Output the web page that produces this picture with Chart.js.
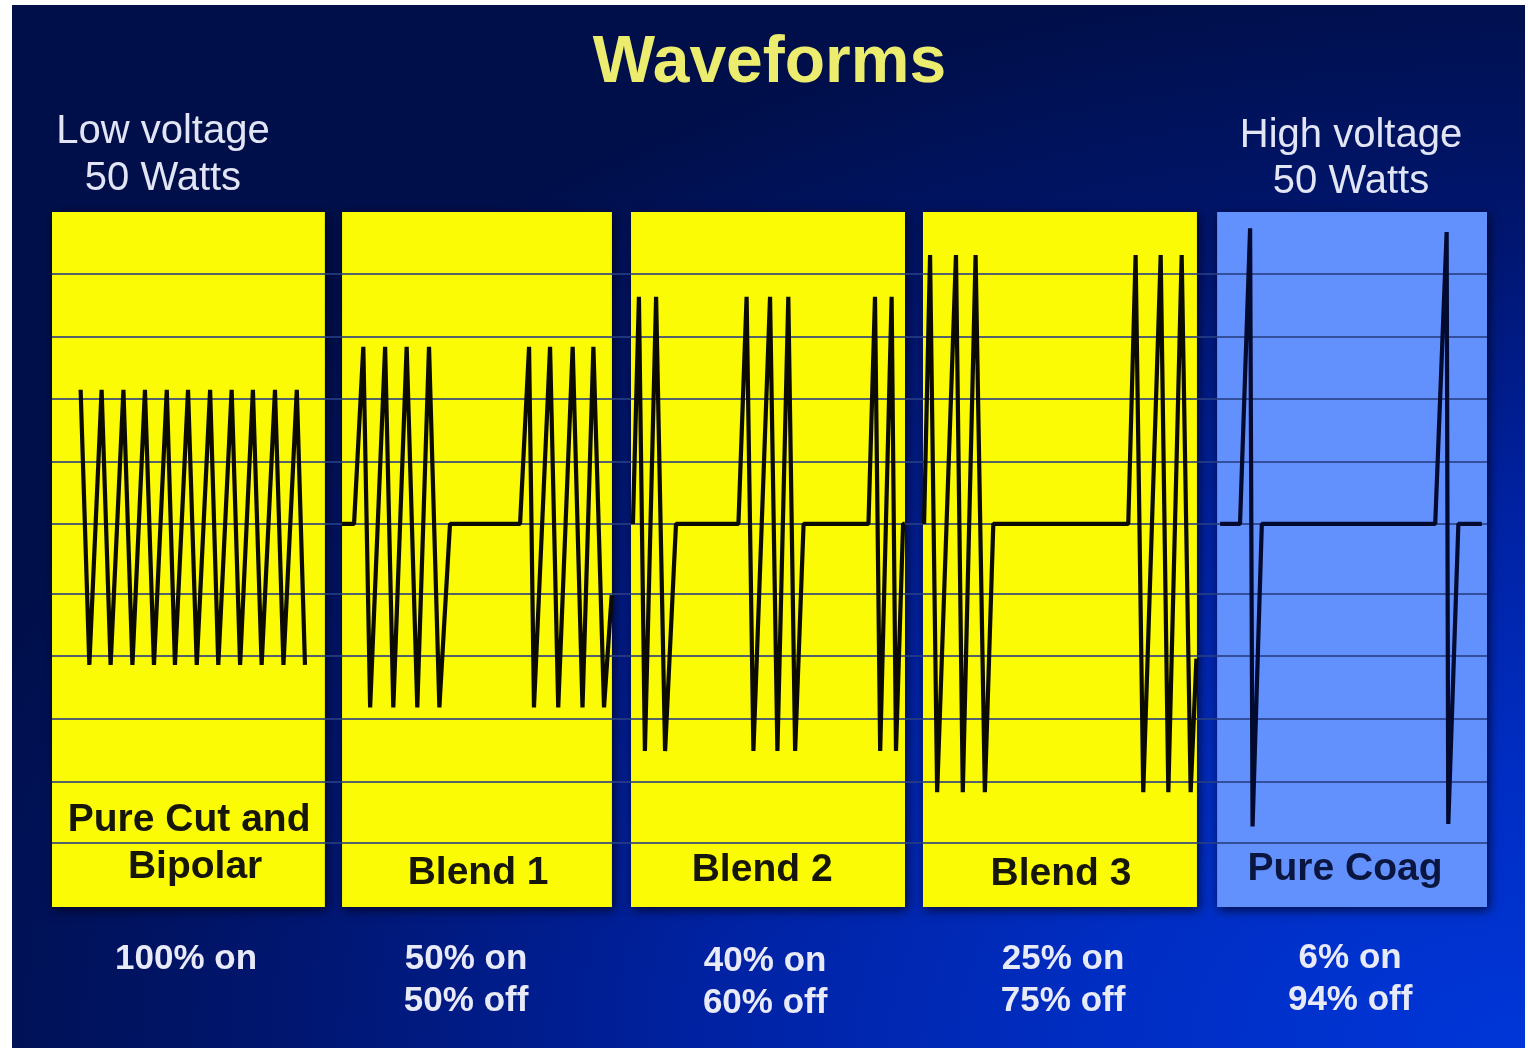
<!DOCTYPE html>
<html><head><meta charset="utf-8">
<script src="https://cdn.jsdelivr.net/npm/chart.js@4.4.1/dist/chart.umd.min.js"></script>
<style>
html,body{margin:0;padding:0;background:#fff;width:1528px;height:1051px;overflow:hidden}
#bg{position:absolute;left:12px;top:5px;width:1513px;height:1043px;
background:radial-gradient(ellipse 1650px 1080px at 100% 100%, #0036d8 0%, #002ec4 25%, #0022a2 50%, #001670 75%, #000f4a 100%)}
#wrap{position:absolute;left:0;top:0;width:1528px;height:1051px}
</style></head><body>
<div id="bg"></div>
<div id="wrap"><canvas id="c" width="1528" height="1051"></canvas></div>
<script>
// ---------- DATA ----------
const chartTitle = "Waveforms";
const sideLabels = [["Low voltage", "50 Watts"], ["High voltage", "50 Watts"]];
const panelNames = [["Pure Cut and", "Bipolar"], ["Blend 1"], ["Blend 2"], ["Blend 3"], ["Pure Coag"]];
const dutyLabels = [["100% on"], ["50% on", "50% off"], ["40% on", "60% off"], ["25% on", "75% off"], ["6% on", "94% off"]];
// y values of the horizontal reference lines (baseline = 0)
const gridValues = [4, 3, 2, 1, 0, -1.12, -2.11, -3.12, -4.13, -5.12];

// waveforms: [time within panel (0-100), amplitude]
const pureCut = [[10.5,2.15],[13.7,-2.26],[18.2,2.15],[21.5,-2.26],[26.2,2.15],[29.5,-2.26],[34.1,2.15],[37.4,-2.26],
  [42.1,2.15],[45.1,-2.26],[49.9,2.15],[53.1,-2.26],[58.0,2.15],[61.0,-2.26],[65.9,2.15],[69.0,-2.26],
  [73.7,2.15],[76.9,-2.26],[81.8,2.15],[84.9,-2.26],[89.8,2.15],[92.8,-2.26]];
const blend1 = [[0,0],[4.4,0],[7.8,2.84],[10.3,-2.94],[15.8,2.84],[18.8,-2.94],[23.7,2.84],[27.6,-2.94],[31.9,2.84],[35.7,-2.94],
  [39.6,0],[65.3,0],[68.6,2.84],[70.4,-2.94],[76.3,2.84],[79.3,-2.94],[84.6,2.84],[88.2,-2.94],[92.2,2.84],[96.1,-2.94],[98.9,-1.14]];
const blend2 = [[0.7,0],[2.9,3.64],[5.1,-3.64],[9.2,3.64],[12.5,-3.64],[16.5,0],[39.4,0],[42.4,3.64],[44.9,-3.64],[51.0,3.64],
  [53.7,-3.64],[57.7,3.64],[60.2,-3.64],[63.3,0],[87.1,0],[89.5,3.64],[91.4,-3.64],[95.6,3.64],[97.2,-3.64],[99.8,0],[100.4,0]];
const blend3 = [[0.4,0],[2.6,4.31],[5.2,-4.3],[12.1,4.31],[14.6,-4.3],[19.3,4.31],[22.7,-4.3],[25.8,0],[75.3,0],
  [78.0,4.31],[80.8,-4.3],[87.2,4.31],[90.0,-4.3],[94.9,4.31],[98.2,-4.3],[100.3,-2.16]];
const pureCoag = [[1.1,0],[8.4,0],[12.1,4.74],[13.0,-4.85],[16.4,0],[80.0,0],[84.2,4.68],[84.8,-4.81],[88.5,0],[97.1,0]];

// ---------- LAYOUT / STYLE ----------
const waves = [pureCut, blend1, blend2, blend3, pureCoag];
const panelStart = [0, 106.4, 212.4, 319.5, 427.4];
const panelWidth = [100.1, 99.0, 100.5, 100.5, 99.0];
const X_MAX = 526.4, Y_MIN = -6.14, Y_MAX = 5;
const panelFill = ['#fbfb06', '#fbfb06', '#fbfb06', '#fbfb06', '#6290fc'];
const waveColor = ['#0b0b04', '#0b0b04', '#0b0b04', '#0b0b04', '#020a30'];
const labelColor = ['#16160a', '#16160a', '#16160a', '#16160a', '#0a1640'];
const FONT = '"Liberation Sans", Arial, Helvetica, sans-serif';
const sideLabelX = [40.7, 476.5];
const sideLabelY = [[143, 190], [147, 193]];
const panelLabelX = [[50.3, 52.5], [156.3], [260.5], [370.1], [474.3]];
const panelLabelY = [[831, 878], [884], [881], [885], [880]];
const dutyLabelX = [49.2, 151.9, 261.6, 370.9, 476.2];
const dutyLabelY = [[969], [969, 1011], [971, 1013], [969, 1011], [968, 1010]];

const panelPlugin = {
  id: 'panels',
  beforeDraw(chart) {
    const {ctx, scales: {x, y}} = chart;
    ctx.save();
    panelStart.forEach((s, i) => {
      const x0 = x.getPixelForValue(s), x1 = x.getPixelForValue(s + panelWidth[i]);
      const y0 = y.getPixelForValue(Y_MAX), y1 = y.getPixelForValue(Y_MIN);
      ctx.shadowColor = 'rgba(0,0,20,0.75)';
      ctx.shadowBlur = 10; ctx.shadowOffsetX = 2; ctx.shadowOffsetY = 3;
      ctx.fillStyle = panelFill[i];
      ctx.fillRect(x0, y0, x1 - x0, y1 - y0);
    });
    ctx.restore();
  },
  afterDraw(chart) {
    const {ctx, scales: {x}} = chart;
    ctx.save();
    ctx.textAlign = 'center';
    ctx.textBaseline = 'alphabetic';
    ctx.font = '40px ' + FONT;
    ctx.fillStyle = '#e2e5f5';
    sideLabels.forEach((lines, i) => lines.forEach((t, j) =>
      ctx.fillText(t, x.getPixelForValue(sideLabelX[i]), sideLabelY[i][j])));
    ctx.font = 'bold 39px ' + FONT;
    panelNames.forEach((lines, i) => {
      ctx.fillStyle = labelColor[i];
      lines.forEach((t, j) => ctx.fillText(t, x.getPixelForValue(panelLabelX[i][j]), panelLabelY[i][j]));
    });
    ctx.font = 'bold 35px ' + FONT;
    ctx.fillStyle = '#e8eaf8';
    dutyLabels.forEach((lines, i) => lines.forEach((t, j) =>
      ctx.fillText(t, x.getPixelForValue(dutyLabelX[i]), dutyLabelY[i][j])));
    ctx.restore();
  }
};

new Chart(document.getElementById('c'), {
  type: 'line',
  data: {
    datasets: waves.map((w, i) => ({
      label: panelNames[i].join(' '),
      data: w.map(([t, v]) => ({x: panelStart[i] + t, y: v})),
      borderColor: waveColor[i],
      borderWidth: 4.2,
      borderJoinStyle: 'bevel',
      pointRadius: 0,
      tension: 0,
      fill: false
    }))
  },
  options: {
    responsive: false,
    animation: false,
    events: [],
    layout: {padding: {left: 52, right: 41, top: 0, bottom: 144}},
    plugins: {
      legend: {display: false},
      tooltip: {enabled: false},
      title: {
        display: true, text: chartTitle, color: '#ecec6e',
        font: {family: FONT, size: 66, weight: 'bold', lineHeight: 1.2},
        padding: {top: 24.4, bottom: 108.4}
      }
    },
    scales: {
      x: {type: 'linear', min: 0, max: X_MAX, display: false},
      y: {
        type: 'linear', min: Y_MIN, max: Y_MAX,
        afterBuildTicks: s => { s.ticks = gridValues.map(v => ({value: v})); },
        ticks: {display: false},
        grid: {color: 'rgba(40,62,130,0.8)', lineWidth: 2, drawTicks: false},
        border: {display: false}
      }
    }
  },
  plugins: [panelPlugin]
});
</script></body></html>
